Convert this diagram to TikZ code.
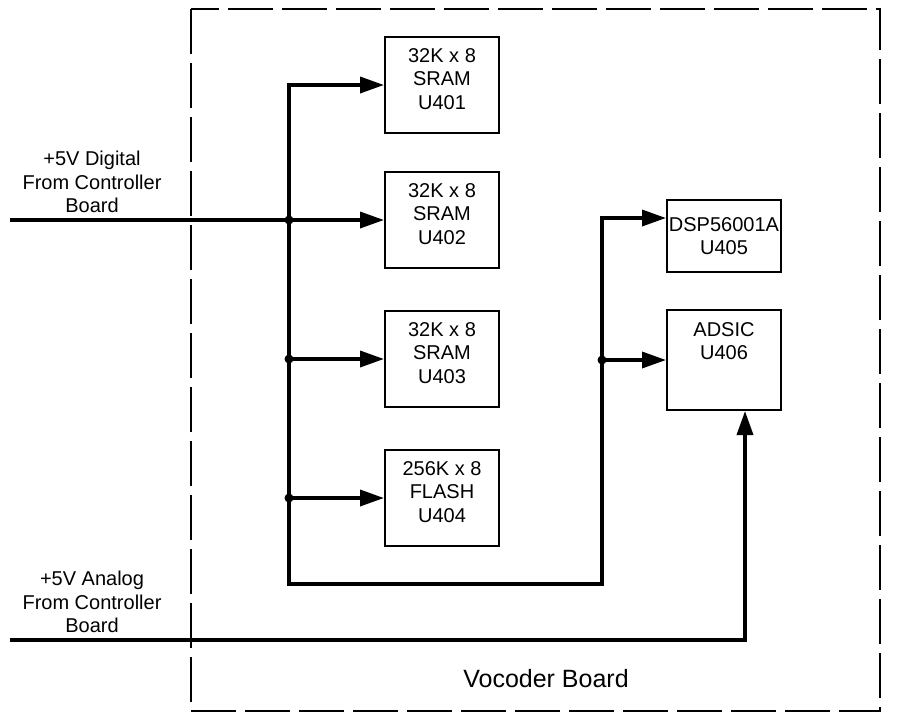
\documentclass[tikz,border=0pt]{standalone}
\usepackage{fontspec}
\setmainfont{Liberation Sans}
\usetikzlibrary{arrows.meta,calc}
\begin{document}
\begin{tikzpicture}[x=1pt,y=-1pt,
  txt/.style={font=\fontsize{20}{23.5}\selectfont, align=center},
  chip/.style={draw, line width=2pt, minimum width=114pt, minimum height=96pt,
    inner sep=0pt, txt},
  lbl/.style={txt, inner sep=0pt, anchor=north},
  bus/.style={line width=3.5pt},
  feed/.style={bus, -{Triangle[length=24pt,width=16pt]}},
  feedboth/.style={bus, {Triangle[length=24pt,width=16pt]}-{Triangle[length=24pt,width=16pt]}},
  junction/.style={circle, fill, inner sep=0pt, minimum size=9pt},
  boundary/.style={line width=2.2pt, dash pattern=on 45pt off 9pt}]
\useasboundingbox (0,0) rectangle (910,716);

% board outline
\draw[boundary] (191,9) rectangle (880,711);
\node[lbl, font=\fontsize{25}{29}\selectfont] (board) at (546,669) {Vocoder Board};

% memory devices (text sits slightly above centre)
\node[chip] (u401) at (442,85)  {};
\node[chip] (u402) at (442,220) {};
\node[chip] (u403) at (442,359) {};
\node[chip] (u404) at (442,498) {};
\node[lbl] (t401) at ([yshift=37pt]u401.center) {32K x 8\\SRAM\\U401};
\node[lbl] (t402) at ([yshift=37pt]u402.center) {32K x 8\\SRAM\\U402};
\node[lbl] (t403) at ([yshift=37pt]u403.center) {32K x 8\\SRAM\\U403};
\node[lbl] (t404) at ([yshift=37pt]u404.center) {256K x 8\\FLASH\\U404};

% processors
\node[chip, minimum height=72pt]  (dsp)   at (724,236) {DSP56001A\\U405};
\node[chip, minimum height=100pt] (adsic) at (724,360) {};
\node[lbl] (adsictxt) at (724,322) {ADSIC\\U406};

% supply labels
\node[lbl] (dlbl) at (92,151) {+5V Digital\\From Controller\\Board};
\node[lbl] (albl) at (92,571) {+5V Analog\\From Controller\\Board};

% supply feeds
\coordinate (din)  at (10,220);
\coordinate (ain)  at (10,640);
\coordinate (busL) at (289,584);
\coordinate (busR) at (602,584);

\draw[feed] (din) -- (u402.west);
% main digital bus: U401 feed, down, across and up to the DSP
\draw[feedboth] (u401.west) -| (busL) -- (busR) |- ([yshift=18pt]dsp.west);
\draw[feed] (busL |- u403.west) -- (u403.west);
\draw[feed] (busL |- u404.west) -- (u404.west);
\draw[feed] (busR |- adsic.west) -- (adsic.west);
\draw[feed] (ain) -| ([xshift=21pt]adsic.south);

% junctions
\node[junction] (j1) at (busL |- u402.west) {};
\node[junction] (j2) at (busL |- u403.west) {};
\node[junction] (j3) at (busL |- u404.west) {};
\node[junction] (j4) at (busR |- adsic.west) {};
\end{tikzpicture}
\end{document}
